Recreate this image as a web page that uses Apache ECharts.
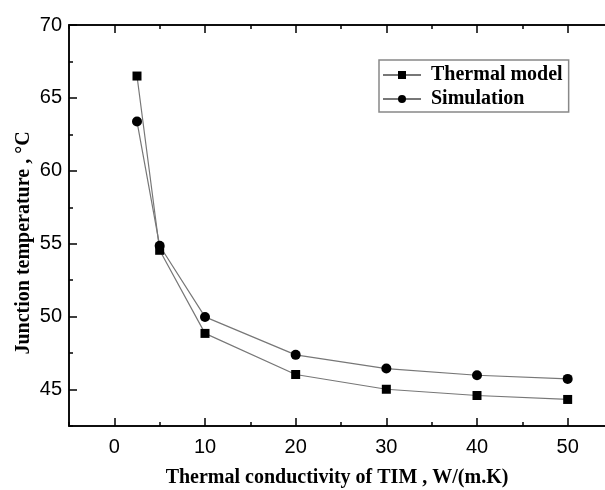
<!DOCTYPE html>
<html>
<head>
<meta charset="utf-8">
<script src="https://cdn.jsdelivr.net/npm/echarts@6/dist/echarts.min.js"></script>
<style>html,body{margin:0;padding:0;background:#fff;}#c{width:605px;height:490px;}</style>
</head>
<body>
<div id="c"></div>
<script>
const conductivity = [2.5, 5, 10, 20, 30, 40, 50];
const thermalModel = [66.5, 54.55, 48.85, 46.03, 45.02, 44.59, 44.32];
const simulation = [63.38, 54.86, 49.98, 47.38, 46.44, 45.98, 45.73];
const xMajorTicks = [0, 10, 20, 30, 40, 50];
const yMajorTicks = [45, 50, 55, 60, 65, 70];
const seriesNames = ['Thermal model', 'Simulation'];
const xTitle = 'Thermal conductivity of TIM , W/(m.K)';
const yTitle = 'Junction temperature , °C';

const serif = '"Liberation Serif", "Times New Roman", serif';
const sans = '"Liberation Sans", Arial, sans-serif';
const axisLine = {show: true, onZero: false, lineStyle: {color: '#000', width: 1.5}};

function xAx(pos, major, labels) {
  return {
    type: 'value', position: pos, min: -5, max: 55, interval: 5,
    axisLine: axisLine, splitLine: {show: false},
    axisTick: major
      ? {show: true, inside: true, length: 8, customValues: xMajorTicks, lineStyle: {color: '#000', width: 1.5}}
      : {show: true, inside: true, length: 4, lineStyle: {color: '#000', width: 1.5}},
    axisLabel: labels
      ? {show: true, interval: 0, margin: 11, color: '#000', fontFamily: sans, fontSize: 20,
         formatter: v => (xMajorTicks.indexOf(v) >= 0 ? String(v) : '')}
      : {show: false}
  };
}
function yAx(pos, major, labels) {
  return {
    type: 'value', position: pos, min: 42.5, max: 70, interval: 2.5,
    axisLine: axisLine, splitLine: {show: false},
    axisTick: major
      ? {show: true, inside: true, length: 8, customValues: yMajorTicks, lineStyle: {color: '#000', width: 1.5}}
      : {show: true, inside: true, length: 4, lineStyle: {color: '#000', width: 1.5}},
    axisLabel: labels
      ? {show: true, interval: 0, margin: 7, color: '#000', fontFamily: sans, fontSize: 20,
         formatter: v => (yMajorTicks.indexOf(v) >= 0 ? String(v) : '')}
      : {show: false}
  };
}

const chart = echarts.init(document.getElementById('c'), null, {renderer: 'canvas'});
chart.setOption({
  animation: false,
  backgroundColor: '#fff',
  grid: {left: 69, top: 25, width: 544, height: 401, containLabel: false, outerBoundsMode: 'none'},
  xAxis: [xAx('bottom', false, true), xAx('bottom', true, false), xAx('top', false, false), xAx('top', true, false)],
  yAxis: [yAx('left', false, true), yAx('left', true, false), yAx('right', false, false), yAx('right', true, false)],
  legend: {
    orient: 'vertical', left: 379, top: 60,
    backgroundColor: '#fff', borderColor: '#888', borderWidth: 1.5, borderRadius: 0,
    padding: [5, 6, 3, 3], itemGap: 4, itemWidth: 38, itemHeight: 10,
    textStyle: {fontFamily: serif, fontWeight: 'bold', fontSize: 20, color: '#000', padding: [0, 0, 0, 5]},
    data: seriesNames
  },
  graphic: [
    {type: 'text', id: 'xt', x: 337, y: 478, style: {text: xTitle, fontFamily: serif, fontWeight: 'bold', fontSize: 20, fill: '#000', align: 'center', verticalAlign: 'middle'}},
    {type: 'text', id: 'yt', x: 24, y: 243, rotation: Math.PI / 2, style: {text: yTitle, fontFamily: serif, fontWeight: 'bold', fontSize: 20, fill: '#000', align: 'center', verticalAlign: 'middle'}}
  ],
  series: [
    {name: seriesNames[0], type: 'line', xAxisIndex: 0, yAxisIndex: 0,
     data: conductivity.map((x, i) => [x, thermalModel[i]]),
     symbol: 'rect', symbolSize: 9,
     lineStyle: {color: '#777', width: 1.2}, itemStyle: {color: '#000'}},
    {name: seriesNames[1], type: 'line', xAxisIndex: 0, yAxisIndex: 0,
     data: conductivity.map((x, i) => [x, simulation[i]]),
     symbol: 'circle', symbolSize: 10,
     lineStyle: {color: '#777', width: 1.2}, itemStyle: {color: '#000'}}
  ]
});
</script>
</body>
</html>
